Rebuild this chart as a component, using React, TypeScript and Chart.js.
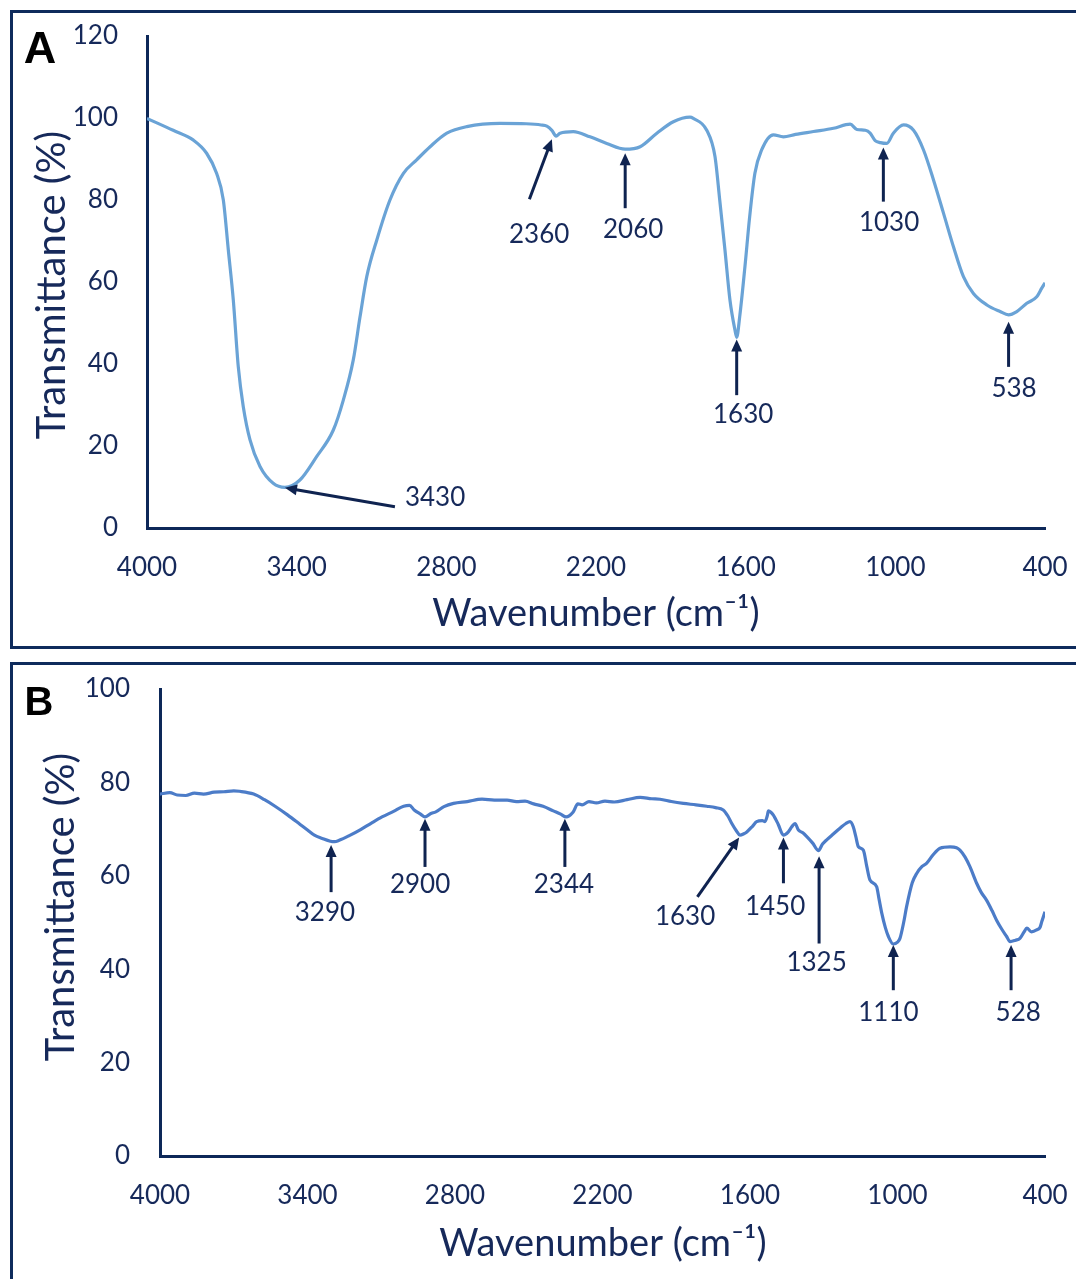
import React, { useEffect, useRef } from 'react';
import { Chart, registerables } from 'chart.js';

Chart.register(...registerables);

// ---------- Data: panel A ----------
const A_WN = [4000, 3895, 3814, 3761, 3721, 3694, 3674, 3654, 3634, 3614, 3587, 3547, 3494, 3447, 3387, 3320, 3253, 3213, 3173, 3146, 3119, 3079, 3026, 2972, 2919, 2865, 2798, 2718, 2585, 2480, 2420, 2397, 2377, 2360, 2344, 2291, 2224, 2157, 2083, 2023, 1956, 1890, 1823, 1810, 1756, 1723, 1704, 1683, 1663, 1643, 1636, 1624, 1603, 1584, 1563, 1536, 1489, 1449, 1400, 1328, 1248, 1181, 1154, 1120, 1101, 1081, 1060, 1034, 1008, 967, 927, 887, 847, 807, 767, 727, 687, 633, 580, 546, 513, 473, 433, 413, 400];
const A_T = [99.9, 97.0, 94.6, 91.4, 86.5, 80.0, 67.8, 55.6, 39.3, 29.6, 21.5, 15.0, 10.9, 9.9, 11.7, 17.4, 23.9, 31.2, 41.0, 51.5, 61.3, 70.2, 80.0, 86.5, 89.8, 93.0, 96.3, 97.9, 98.7, 98.6, 98.3, 98.0, 97.0, 95.6, 96.3, 96.7, 95.4, 93.8, 92.4, 93.0, 96.3, 99.1, 100.2, 99.9, 97.0, 90.6, 80.0, 67.8, 55.6, 48.3, 46.5, 51.5, 63.7, 75.9, 86.5, 92.2, 95.9, 95.4, 96.0, 96.7, 97.5, 98.5, 97.2, 97.0, 96.3, 94.5, 94.0, 93.8, 96.3, 98.3, 97.0, 92.2, 84.9, 76.8, 68.6, 61.3, 57.2, 54.4, 52.8, 52.0, 52.8, 54.8, 56.4, 58.5, 59.8];

const A_ANN_LABELS = ['3430', '2360', '2060', '1630', '1030', '538'];
const A_ANN_TIP_X = [3447, 2377, 2083, 1636, 1048, 546];
const A_ANN_TIP_Y = [9.8, 94.8, 91.4, 46.0, 92.8, 50.3];
const A_ANN_TAIL_X = [3006, 2467, 2083, 1636, 1048, 546];
const A_ANN_TAIL_Y = [5.2, 80.2, 78.0, 32.4, 79.6, 39.3];
const A_ANN_TEXT_X = [2845, 2428, 2051, 1610, 1025, 524];
const A_ANN_TEXT_Y = [7.3, 71.5, 72.7, 27.6, 74.4, 33.9];

// ---------- Data: panel B ----------
const B_WN = [4000, 3960, 3930, 3895, 3860, 3823, 3780, 3740, 3700, 3677, 3619, 3575, 3532, 3480, 3430, 3400, 3372, 3340, 3307, 3290, 3271, 3230, 3184, 3140, 3097, 3050, 3009, 2985, 2966, 2940, 2922, 2900, 2878, 2845, 2806, 2750, 2690, 2640, 2588, 2550, 2515, 2480, 2442, 2400, 2370, 2348, 2320, 2300, 2283, 2255, 2225, 2190, 2152, 2100, 2047, 2000, 1966, 1920, 1871, 1820, 1776, 1740, 1709, 1690, 1674, 1655, 1641, 1625, 1613, 1590, 1573, 1550, 1539, 1530, 1525, 1515, 1505, 1485, 1464, 1444, 1430, 1417, 1403, 1385, 1369, 1345, 1322, 1305, 1288, 1260, 1234, 1210, 1193, 1180, 1170, 1159, 1139, 1125, 1112, 1085, 1075, 1064, 1050, 1037, 1017, 1000, 990, 975, 963, 940, 922, 900, 881, 855, 827, 786, 760, 746, 725, 705, 678, 660, 638, 615, 597, 575, 556, 542, 520, 502, 485, 474, 455, 434, 420, 413, 400];
const B_T = [77.5, 77.8, 77.3, 77.2, 77.7, 77.5, 77.9, 78.0, 78.2, 78.1, 77.5, 76.3, 74.9, 73.0, 71.0, 69.8, 68.7, 68.0, 67.4, 67.3, 67.6, 68.6, 69.9, 71.3, 72.6, 73.8, 74.9, 75.1, 74.1, 73.2, 72.6, 73.3, 73.7, 74.8, 75.5, 75.9, 76.4, 76.2, 76.2, 75.9, 76.0, 75.4, 74.9, 73.9, 73.2, 72.6, 73.6, 75.4, 75.2, 75.9, 75.6, 76.0, 75.8, 76.3, 76.8, 76.5, 76.4, 75.9, 75.5, 75.2, 74.9, 74.6, 74.1, 72.8, 71.2, 69.6, 68.7, 69.0, 69.4, 70.6, 71.6, 71.8, 71.6, 72.8, 73.9, 73.6, 73.0, 71.0, 68.7, 69.4, 70.5, 71.2, 69.8, 69.2, 68.4, 67.0, 65.4, 66.8, 67.7, 69.0, 70.2, 71.2, 71.6, 70.5, 68.5, 66.2, 65.5, 62.0, 59.1, 57.7, 55.0, 52.0, 49.0, 47.0, 45.4, 45.8, 46.6, 50.0, 53.4, 58.5, 60.5, 62.0, 62.7, 64.5, 65.9, 66.2, 66.0, 65.5, 64.0, 61.9, 58.4, 56.5, 54.8, 52.5, 50.5, 48.5, 47.0, 45.9, 46.2, 46.6, 48.0, 48.8, 48.0, 48.4, 49.0, 50.2, 52.3];

const B_ANN_LABELS = ['3290', '2900', '2344', '1630', '1450', '1325', '1110', '528'];
const B_ANN_TIP_X = [3304, 2922, 2353, 1644, 1464, 1319, 1017, 538];
const B_ANN_TIP_Y = [66.6, 72.2, 72.2, 68.2, 68.2, 64.2, 45.2, 45.2];
const B_ANN_TAIL_X = [3304, 2922, 2353, 1814, 1464, 1319, 1017, 538];
const B_ANN_TAIL_Y = [56.5, 61.9, 61.9, 55.5, 58.4, 45.5, 35.5, 35.5];
const B_ANN_TEXT_X = [3329, 2942, 2357, 1864, 1498, 1329, 1037, 509];
const B_ANN_TEXT_Y = [52.2, 58.2, 58.2, 51.2, 53.3, 41.5, 30.6, 30.6];

const X_MIN = 400;
const X_MAX = 4000;
const X_STEP = 600;
const Y_STEP = 20;

const FONT = 'Lato, "Noto Sans", "DejaVu Sans", sans-serif';
const TEXT_COLOR = '#16295a';
const AXIS_COLOR = '#0d2858';
const ARROW_COLOR = '#0f2350';
const FRAME_COLOR = '#0e2b5c';

type Panel = {
  wn: number[];
  t: number[];
  yMax: number;
  color: string;
  letter: string;
  letterSize: number;
  top: number;
  height: number;
  axisLeft: number;
  padTop: number;
  padRight: number;
  xAxisHeight: number;
  yTickPad: number;
  xTickPad: number;
  letterPos: [number, number];
  xTitlePos: [number, number];
  yTitlePos: [number, number];
  ann: {
    labels: string[];
    tipX: number[];
    tipY: number[];
    tailX: number[];
    tailY: number[];
    textX: number[];
    textY: number[];
  };
};

const PANELS: Panel[] = [
  {
    wn: A_WN, t: A_T, yMax: 120, color: '#6aa3d6', letter: 'A', letterSize: 45,
    top: 0, height: 648, axisLeft: 147, padTop: 36, padRight: 31, xAxisHeight: 120,
    yTickPad: 29, xTickPad: 24,
    letterPos: [40, 51], xTitlePos: [596, 614], yTitlePos: [52, 285],
    ann: { labels: A_ANN_LABELS, tipX: A_ANN_TIP_X, tipY: A_ANN_TIP_Y, tailX: A_ANN_TAIL_X, tailY: A_ANN_TAIL_Y, textX: A_ANN_TEXT_X, textY: A_ANN_TEXT_Y },
  },
  {
    wn: B_WN, t: B_T, yMax: 100, color: '#4c7cc8', letter: 'B', letterSize: 40,
    top: 650, height: 629, axisLeft: 160, padTop: 39, padRight: 31, xAxisHeight: 123,
    yTickPad: 30, xTickPad: 24,
    letterPos: [39, 54], xTitlePos: [603, 594], yTitlePos: [61, 257],
    ann: { labels: B_ANN_LABELS, tipX: B_ANN_TIP_X, tipY: B_ANN_TIP_Y, tailX: B_ANN_TAIL_X, tailY: B_ANN_TAIL_Y, textX: B_ANN_TEXT_X, textY: B_ANN_TEXT_Y },
  },
];

function drawArrow(ctx: CanvasRenderingContext2D, sx: number, sy: number, tx: number, ty: number) {
  const ang = Math.atan2(ty - sy, tx - sx);
  const headLen = 12;
  const headW = 5.5;
  const bx = tx - headLen * Math.cos(ang);
  const by = ty - headLen * Math.sin(ang);
  ctx.beginPath();
  ctx.moveTo(sx, sy);
  ctx.lineTo(bx + Math.cos(ang) * 2, by + Math.sin(ang) * 2);
  ctx.stroke();
  ctx.beginPath();
  ctx.moveTo(tx, ty);
  ctx.lineTo(bx + headW * Math.sin(ang), by - headW * Math.cos(ang));
  ctx.lineTo(bx - headW * Math.sin(ang), by + headW * Math.cos(ang));
  ctx.closePath();
  ctx.fill();
}

function makePlugin(p: Panel) {
  return {
    id: 'ftirDecor' + p.letter,
    afterDraw(chart: any) {
      const ctx: CanvasRenderingContext2D = chart.ctx;
      const xs = chart.scales.x;
      const ys = chart.scales.y;
      ctx.save();
      // arrows
      ctx.strokeStyle = ARROW_COLOR;
      ctx.fillStyle = ARROW_COLOR;
      ctx.lineWidth = 3;
      ctx.lineCap = 'butt';
      for (let i = 0; i < p.ann.labels.length; i++) {
        const sx = xs.getPixelForValue(p.ann.tailX[i]);
        const sy = ys.getPixelForValue(p.ann.tailY[i]);
        const tx = xs.getPixelForValue(p.ann.tipX[i]);
        const ty = ys.getPixelForValue(p.ann.tipY[i]);
        drawArrow(ctx, sx, sy, tx, ty);
      }
      // annotation labels
      ctx.fillStyle = TEXT_COLOR;
      ctx.font = `26px ${FONT}`;
      ctx.textAlign = 'center';
      ctx.textBaseline = 'middle';
      for (let i = 0; i < p.ann.labels.length; i++) {
        ctx.fillText(p.ann.labels[i], xs.getPixelForValue(p.ann.textX[i]), ys.getPixelForValue(p.ann.textY[i]));
      }
      // axis titles
      ctx.font = `38px ${FONT}`;
      ctx.fillText('Wavenumber (cm\u207B\u00B9)', p.xTitlePos[0], p.xTitlePos[1]);
      ctx.save();
      ctx.translate(p.yTitlePos[0], p.yTitlePos[1]);
      ctx.rotate(-Math.PI / 2);
      ctx.font = `40px ${FONT}`;
      ctx.fillText('Transmittance (%)', 0, 0);
      ctx.restore();
      // panel letter
      ctx.fillStyle = '#000000';
      ctx.font = `bold ${p.letterSize}px "Liberation Sans", Arial, sans-serif`;
      ctx.fillText(p.letter, p.letterPos[0], p.letterPos[1]);
      ctx.restore();
    },
  };
}

function zeroPadding(s: any) {
  s.paddingTop = 0;
  s.paddingBottom = 0;
  s.paddingLeft = 0;
  s.paddingRight = 0;
}

function PanelChart({ p }: { p: Panel }) {
  const ref = useRef<HTMLCanvasElement | null>(null);
  useEffect(() => {
    if (!ref.current) return;
    const data = p.wn.map((w, i) => ({ x: w, y: p.t[i] }));
    const chart = new Chart(ref.current, {
      type: 'line',
      data: {
        datasets: [
          {
            data,
            borderColor: p.color,
            borderWidth: 3.2,
            pointRadius: 0,
            fill: false,
            cubicInterpolationMode: 'monotone',
          } as any,
        ],
      },
      options: {
        animation: false,
        responsive: false,
        maintainAspectRatio: false,
        devicePixelRatio: 1,
        layout: { padding: { left: 0, top: p.padTop, right: p.padRight, bottom: 0 } },
        plugins: { legend: { display: false }, tooltip: { enabled: false }, title: { display: false } },
        scales: {
          x: {
            type: 'linear',
            reverse: true,
            min: X_MIN,
            max: X_MAX,
            grid: { display: false, drawTicks: false },
            border: { display: true, color: AXIS_COLOR, width: 3 },
            ticks: {
              stepSize: X_STEP,
              padding: p.xTickPad,
              color: TEXT_COLOR,
              font: { family: FONT, size: 26 },
              maxRotation: 0,
              autoSkip: false,
              callback: (v: any) => String(v),
            },
            afterFit: (s: any) => { s.height = p.xAxisHeight; zeroPadding(s); },
          },
          y: {
            type: 'linear',
            min: 0,
            max: p.yMax,
            grid: { display: false, drawTicks: false },
            border: { display: true, color: AXIS_COLOR, width: 3 },
            ticks: {
              stepSize: Y_STEP,
              padding: p.yTickPad,
              color: TEXT_COLOR,
              font: { family: FONT, size: 26 },
              callback: (v: any) => String(v),
            },
            afterFit: (s: any) => { s.width = p.axisLeft; zeroPadding(s); },
          },
        },
      } as any,
      plugins: [makePlugin(p)],
    });
    return () => chart.destroy();
  }, [p]);
  return (
    <canvas
      ref={ref}
      width={1076}
      height={p.height}
      style={{ position: 'absolute', left: 0, top: p.top, width: 1076, height: p.height }}
    />
  );
}

export default function App() {
  return (
    <div style={{ position: 'absolute', left: 0, top: 0, width: 1076, height: 1279, overflow: 'hidden', background: '#ffffff' }}>
      <div style={{ position: 'absolute', left: 10, top: 10, width: 1100, height: 639, boxSizing: 'border-box', border: `3px solid ${FRAME_COLOR}` }} />
      <div style={{ position: 'absolute', left: 10, top: 662, width: 1100, height: 700, boxSizing: 'border-box', border: `3px solid ${FRAME_COLOR}` }} />
      {PANELS.map((p) => (
        <PanelChart key={p.letter} p={p} />
      ))}
    </div>
  );
}
